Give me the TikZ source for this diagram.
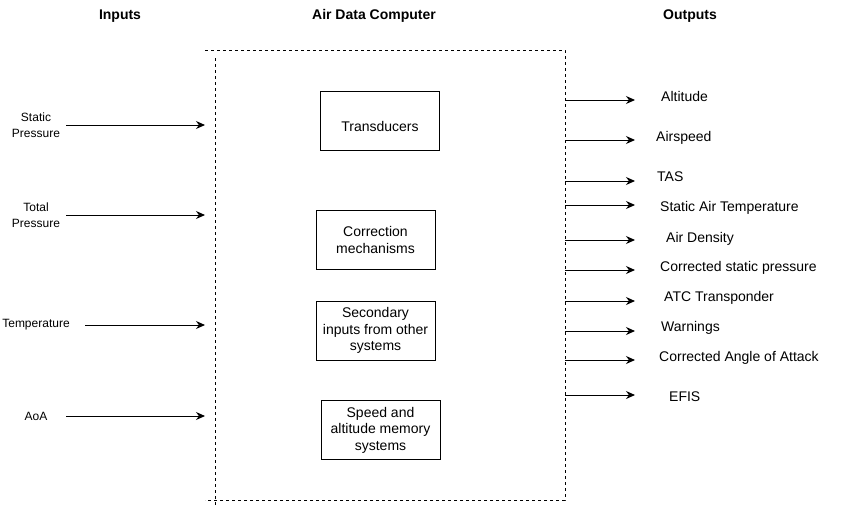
\documentclass[tikz,border=0pt]{standalone}
\usepackage{fontspec}
\setmainfont{Liberation Sans}
\usetikzlibrary{arrows.meta}
\begin{document}
\begin{tikzpicture}[x=1pt,y=-1pt,
    arr/.style={draw=black,-{Stealth[length=9pt,width=8pt]},line width=1pt},
    dashline/.style={draw=black,line width=1pt,dash pattern=on 3pt off 3pt},
    unit/.style={shape=rectangle,draw=black,line width=1pt,minimum width=119pt,minimum height=59pt,align=center,inner sep=2pt,font=\fontsize{14}{16.5}\selectfont},
    lbl/.style={inner sep=0pt,font=\fontsize{14}{16.5}\selectfont},
    inlbl/.style={inner sep=0pt,align=center,font=\fontsize{12}{15.5}\selectfont},
    head/.style={inner sep=0pt,font=\bfseries\fontsize{14}{16.5}\selectfont}]
    \useasboundingbox (0,0) rectangle (841,507);

    \node[head] (hin) at (120,16){Inputs};
    \node[head] (hadc) at (374,16){Air Data Computer};
    \node[head] (hout) at (690,16){Outputs};

    \coordinate (c1) at (205,50);
    \coordinate (c2) at (565,50);
    \coordinate (c3) at (565,500);
    \coordinate (c4) at (205,500);
    \coordinate (c5) at (215,58);
    \coordinate (c6) at (215,505);
    \draw[dashline] (c1) -- (c2) -- (c3) -- (c4);
    \draw[dashline] (c5) -- (c6);

    \node[unit,label={[lbl,yshift=-6pt]center:Transducers}] (trans) at (380,120.5){};
    \node[unit] (corr) at (375.5,240){Correction\\mechanisms};
    \node[unit] (sec) at (375.5,330.5){Secondary\\inputs from other\\systems};
    \node[unit] (mem) at (380.5,430){Speed and\\altitude memory\\systems};

    \foreach \n/\y/\x/\txt in {sp/125/66/{Static\\Pressure}, tp/215/66/{Total\\Pressure}, temp/325/85/Temperature, aoa/416/66/AoA}
        {\node[inlbl] (\n) at (36,\y){\txt};
        \coordinate (\n-a) at (\x,\y);
        \coordinate (\n-b) at (205,\y);
        \draw[arr] (\n-a) -- (\n-b);}

    \foreach \y/\ty/\x/\txt [count=\i] in {100/96/661/Altitude, 140/136/656/Airspeed, 181/176/657/TAS, 205/206/660/Static Air Temperature, 240/237/666/Air Density, 270/266/660/Corrected static pressure, 301/296/664/ATC Transponder, 331/326/661/Warnings, 360/356/659/Corrected Angle of Attack, 395/396/669/EFIS}
        {\coordinate (o\i-a) at (565,\y);
        \coordinate (o\i-b) at (635,\y);
        \draw[arr] (o\i-a) -- (o\i-b);
        \node[lbl,anchor=base west] (out\i) at (\x,\ty+5){\txt};}

\end{tikzpicture}
\end{document}
